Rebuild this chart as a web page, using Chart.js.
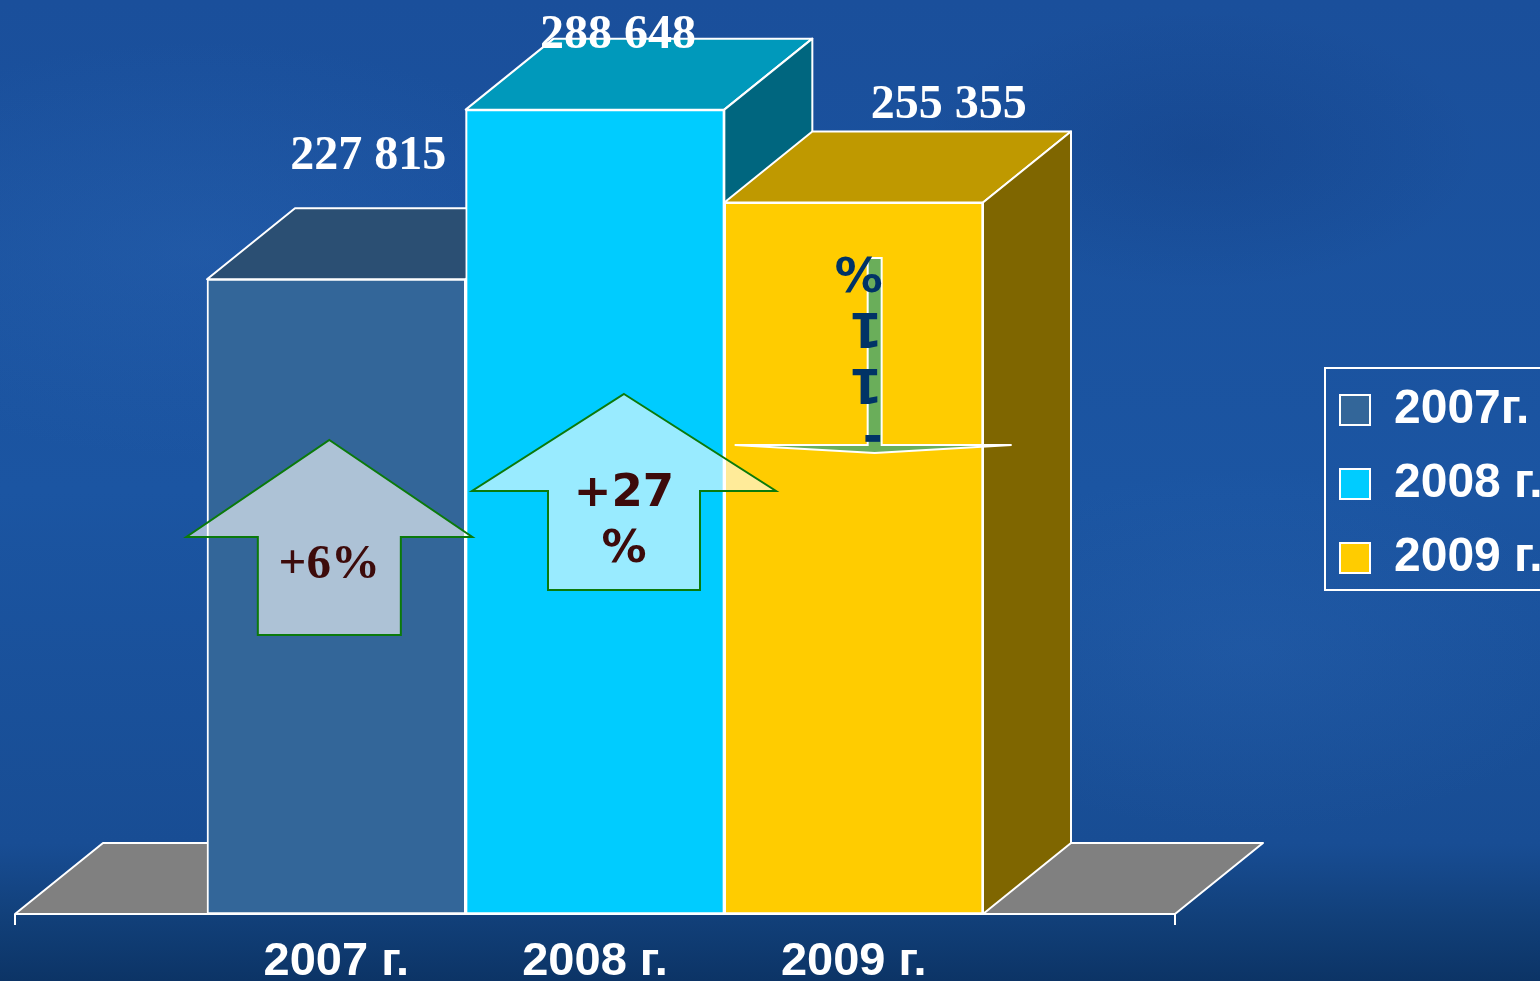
<!DOCTYPE html>
<html>
<head>
<meta charset="utf-8">
<script src="https://cdn.jsdelivr.net/npm/chart.js@4.4.1/dist/chart.umd.min.js"></script>
<style>
html, body { margin: 0; padding: 0; overflow: hidden; }
body {
  width: 1540px; height: 981px;
  background:
    radial-gradient(ellipse 600px 300px at 200px 250px, rgba(60,120,200,0.18), rgba(60,120,200,0) 70%),
    radial-gradient(ellipse 500px 260px at 1250px 650px, rgba(60,120,200,0.16), rgba(60,120,200,0) 70%),
    radial-gradient(ellipse 400px 200px at 1200px 150px, rgba(10,40,100,0.18), rgba(10,40,100,0) 70%),
    linear-gradient(180deg, #1a4f9b 0%, #1b55a2 50%, #184d94 86%, #113f78 94%, #0c3466 100%);
}
#wrap { position: relative; width: 1540px; height: 981px; }
</style>
</head>
<body>
<div id="wrap"><canvas id="chart" width="1540" height="981"></canvas></div>
<script>
// ---- data ----
const categories   = ['2007 г.', '2008 г.', '2009 г.'];
const legendLabels = ['2007г.', '2008 г.', '2009 г.'];
const values       = [227815, 288648, 255355];
const changeTexts  = ['+6%', '+27 %', '-11%'];

// ---- styles ----
const frontColors = ['#336699', '#00CCFF', '#FFCC00'];
const topColors   = ['#2B4F73', '#0099BB', '#BF9900'];
const sideColors  = ['#1A3D5C', '#00667F', '#7F6600'];
const DEPTH = { dx: 88, dy: 71 };
const FLOOR_EXT = 192;
const LABEL_OFFSETS = [ { dx: 32, dy: -110 }, { dx: 23, dy: -62 }, { dx: 95, dy: -84 } ];

function fmt(v) { return String(v).replace(/\B(?=(\d{3})+(?!\d))/g, ' '); }

function poly(ctx, pts, fill) {
  ctx.beginPath();
  ctx.moveTo(pts[0][0], pts[0][1]);
  for (let k = 1; k < pts.length; k++) ctx.lineTo(pts[k][0], pts[k][1]);
  ctx.closePath();
  if (fill) { ctx.fillStyle = fill; ctx.fill(); }
  ctx.stroke();
}

const floorPlugin = {
  id: 'floor3d',
  beforeDatasetsDraw(chart) {
    const { ctx, chartArea: a } = chart;
    const y = a.bottom, l = a.left - FLOOR_EXT, r = a.right + FLOOR_EXT;
    ctx.save();
    ctx.lineWidth = 2; ctx.strokeStyle = '#ffffff'; ctx.lineJoin = 'round';
    poly(ctx, [[l, y], [r, y], [r + DEPTH.dx, y - DEPTH.dy], [l + DEPTH.dx, y - DEPTH.dy]], '#808080');
    ctx.beginPath();
    ctx.moveTo(l, y); ctx.lineTo(l, y + 11);
    ctx.moveTo(r, y); ctx.lineTo(r, y + 11);
    ctx.stroke();
    ctx.restore();
  }
};

const boxPlugin = {
  id: 'box3d',
  afterDatasetsDraw(chart) {
    const { ctx } = chart;
    const meta = chart.getDatasetMeta(0);
    meta.data.forEach((bar, i) => {
      const { x, y, base, width } = bar.getProps(['x', 'y', 'base', 'width'], true);
      const l = x - width / 2, r = x + width / 2;
      ctx.save();
      ctx.lineWidth = 2; ctx.strokeStyle = '#ffffff'; ctx.lineJoin = 'round';
      poly(ctx, [[l, y], [r, y], [r + DEPTH.dx, y - DEPTH.dy], [l + DEPTH.dx, y - DEPTH.dy]], topColors[i]);
      poly(ctx, [[r, y], [r + DEPTH.dx, y - DEPTH.dy], [r + DEPTH.dx, base - DEPTH.dy], [r, base]], sideColors[i]);
      ctx.restore();
      bar.draw(ctx);
    });
  }
};

const arrowPlugin = {
  id: 'arrows',
  afterDraw(chart) {
    const { ctx } = chart;
    const bars = chart.getDatasetMeta(0).data;
    ctx.save();
    // up arrows
    const ups = [
      { bar: 0, dx: -7, tip: 440, wing: 537, bottom: 635, hh: 143, hs: 71.5 },
      { bar: 1, dx: 29, tip: 394, wing: 491, bottom: 590, hh: 152, hs: 76 }
    ];
    ups.forEach(a => {
      const cx = bars[a.bar].x + a.dx;
      ctx.lineWidth = 2; ctx.strokeStyle = '#0B7A0B'; ctx.lineJoin = 'miter';
      poly(ctx, [[cx, a.tip], [cx + a.hh, a.wing], [cx + a.hs, a.wing], [cx + a.hs, a.bottom],
                 [cx - a.hs, a.bottom], [cx - a.hs, a.wing], [cx - a.hh, a.wing]], 'rgba(255,255,255,0.6)');
    });
    ctx.fillStyle = '#3D0B0B';
    ctx.textAlign = 'center'; ctx.textBaseline = 'alphabetic';
    const cx0 = bars[0].x - 7;
    ctx.font = 'bold 49px "Liberation Serif", "Times New Roman", serif';
    ctx.fillText(changeTexts[0], cx0, 578);
    const cx1 = bars[1].x + 29;
    ctx.font = 'bold 45px "DejaVu Sans", Verdana, sans-serif';
    const l2 = changeTexts[1].split(' ');
    ctx.fillText(l2[0], cx1, 506);
    ctx.fillText(l2[1], cx1, 562);

    // down arrow (bar 2)
    const bx = bars[2].x;
    const sr = bx + 28, sl = sr - 14;
    ctx.lineWidth = 2; ctx.strokeStyle = '#ffffff';
    poly(ctx, [[sl, 258], [sr, 258], [sr, 445], [bx + 158, 445], [bx + 21, 453], [bx - 119, 445], [sl, 445]], '#6AAE5A');
    ctx.translate(sr + 1, 437);
    ctx.rotate(Math.PI);
    ctx.fillStyle = '#003366';
    ctx.font = 'bold 48px "DejaVu Sans", Verdana, sans-serif';
    ctx.textAlign = 'left'; ctx.textBaseline = 'middle';
    changeTexts[2].split('').forEach((ch, k) => ctx.fillText(ch, 0, 56 * k));
    ctx.restore();
  }
};

const valueLabelPlugin = {
  id: 'valueLabels',
  afterDraw(chart) {
    const { ctx } = chart;
    const meta = chart.getDatasetMeta(0);
    ctx.save();
    ctx.fillStyle = '#ffffff';
    ctx.font = 'bold 48px "Liberation Serif", "Times New Roman", serif';
    ctx.textAlign = 'center'; ctx.textBaseline = 'alphabetic';
    meta.data.forEach((bar, i) => {
      ctx.fillText(fmt(values[i]), bar.x + LABEL_OFFSETS[i].dx, bar.y + LABEL_OFFSETS[i].dy);
    });
    ctx.restore();
  }
};

const legendFramePlugin = {
  id: 'legendFrame',
  afterDraw(chart) {
    const lg = chart.legend;
    if (!lg || !lg.legendHitBoxes || !lg.legendHitBoxes.length) return;
    const hb = lg.legendHitBoxes;
    const top = hb[0].top - 18, bottom = hb[hb.length - 1].top + hb[hb.length - 1].height + 8;
    const ctx = chart.ctx;
    ctx.save();
    ctx.strokeStyle = '#ffffff'; ctx.lineWidth = 2;
    ctx.strokeRect(lg.left + 11, top, 400, bottom - top);
    ctx.restore();
  }
};

const labelFont = { family: '"Liberation Sans", Arial, sans-serif', size: 47, weight: 'bold' };

new Chart(document.getElementById('chart'), {
  type: 'bar',
  data: {
    labels: categories,
    datasets: [{
      label: 'values',
      data: values,
      xAxisID: 'x', yAxisID: 'y',
      backgroundColor: frontColors,
      borderColor: '#ffffff',
      borderWidth: 2,
      borderSkipped: false,
      categoryPercentage: 1,
      barPercentage: 1
    }]
  },
  options: {
    responsive: false,
    animation: false,
    devicePixelRatio: 1,
    layout: { padding: { top: -13, left: 0, right: 0, bottom: 0 } },
    plugins: {
      tooltip: { enabled: false },
      title: { display: false },
      legend: {
        display: true,
        position: 'right',
        align: 'center',
        maxWidth: 226,
        labels: {
          color: '#ffffff',
          font: { family: '"Liberation Sans", Arial, sans-serif', size: 48, weight: 'bold' },
          boxWidth: 30, boxHeight: 30, padding: 26,
          generateLabels: () => legendLabels.map((t, i) => ({
            text: t, fillStyle: frontColors[i], strokeStyle: '#ffffff', lineWidth: 2,
            hidden: false, index: i, datasetIndex: 0, fontColor: '#ffffff'
          }))
        }
      }
    },
    scales: {
      x: {
        type: 'category', position: 'bottom',
        grid: { display: false, drawTicks: false }, border: { display: false },
        ticks: { color: '#ffffff', font: labelFont, padding: 20, maxRotation: 0, autoSkip: false },
        afterFit(s) { s.height = 67; }
      },
      xTop: {
        type: 'category', position: 'top', display: true,
        grid: { display: false, drawTicks: false }, border: { display: false },
        ticks: { display: false },
        afterFit(s) { s.height = 91; }
      },
      y: {
        type: 'linear', position: 'left', min: 0, max: 300000,
        grid: { display: false, drawTicks: false }, border: { display: false },
        ticks: { display: false },
        afterFit(s) { s.width = 207; }
      },
      y2: {
        type: 'linear', position: 'right', min: 0, max: 300000, display: true,
        grid: { display: false, drawTicks: false }, border: { display: false },
        ticks: { display: false },
        afterFit(s) { s.width = 331; }
      }
    }
  },
  plugins: [floorPlugin, boxPlugin, arrowPlugin, valueLabelPlugin, legendFramePlugin]
});
</script>
</body>
</html>
